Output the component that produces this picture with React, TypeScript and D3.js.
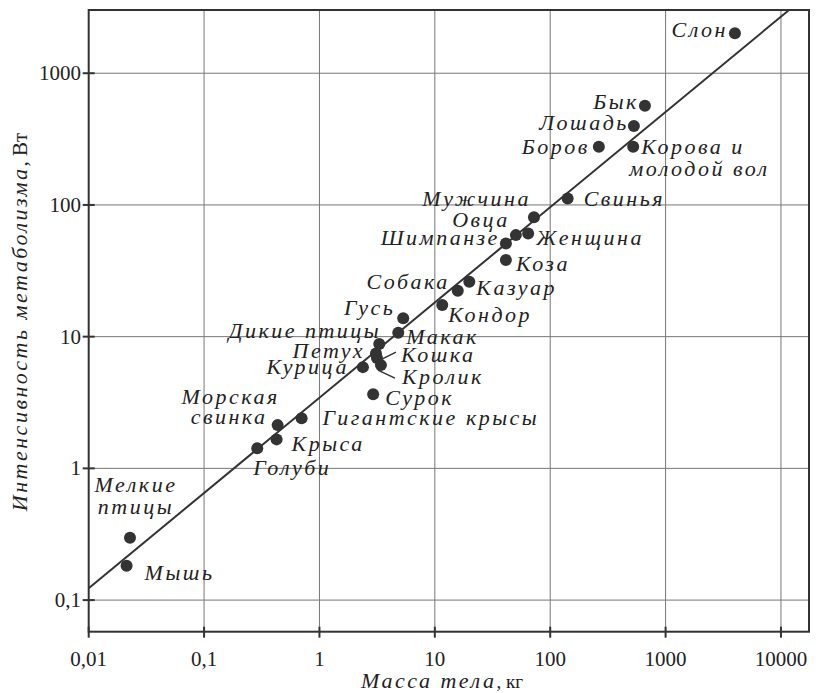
import React from "react";
import * as d3 from "d3";

const names = [
  "Слон", "Бык", "Лошадь", "Корова и молодой вол", "Боров", "Свинья", "Мужчина", "Женщина",
  "Овца", "Шимпанзе", "Коза", "Казуар", "Собака", "Кондор", "Гусь", "Макак", "Дикие птицы",
  "Петух", "Кошка", "Курица", "Кролик", "Сурок", "Гигантские крысы", "Крыса", "Морская свинка",
  "Голуби", "Мелкие птицы", "Мышь",
];
const massKg = [
  3990, 662, 531, 524, 264, 141.6, 72.3, 64.4,
  50.4, 41.3, 41.3, 19.9, 15.8, 11.6, 5.32, 4.82, 3.3,
  3.09, 3.15, 2.38, 3.41, 2.92, 0.70, 0.425, 0.434,
  0.289, 0.0228, 0.0213,
];
const powerW = [
  2010, 566, 397, 277, 277, 112, 80.5, 60.8,
  59, 51, 38.2, 26.1, 22.3, 17.4, 13.8, 10.7, 8.8,
  7.46, 6.88, 5.87, 6.08, 3.66, 2.40, 1.66, 2.13,
  1.42, 0.297, 0.182,
];
const fitMass = [0.01, 11750];
const fitPower = [0.123, 3020];
const xTicks = [0.01, 0.1, 1, 10, 100, 1000, 10000];
const xTickLabels = ["0,01", "0,1", "1", "10", "100", "1000", "10000"];
const yTicks = [0.1, 1, 10, 100, 1000];
const yTickLabels = ["0,1", "1", "10", "100", "1000"];

// label layout: lines, per-line [dx, dy], anchor
type L = { lines: string[]; off: [number, number][]; anchor: "start" | "end" | "middle"; leader?: [number, number, number, number] };
const layout: L[] = [
  { lines: ["Слон"], off: [[-7, 4]], anchor: "end" },
  { lines: ["Бык"], off: [[-6, 3]], anchor: "end" },
  { lines: ["Лошадь"], off: [[-5, 4]], anchor: "end" },
  { lines: ["Корова и", "молодой вол"], off: [[8, 7], [-4, 29]], anchor: "start" },
  { lines: ["Боров"], off: [[-9, 7]], anchor: "end" },
  { lines: ["Свинья"], off: [[16, 8]], anchor: "start" },
  { lines: ["Мужчина"], off: [[-3, -11]], anchor: "end" },
  { lines: ["Женщина"], off: [[8, 12]], anchor: "start" },
  { lines: ["Овца"], off: [[-6, -8]], anchor: "end" },
  { lines: ["Шимпанзе"], off: [[-6, 2]], anchor: "end" },
  { lines: ["Коза"], off: [[10, 11]], anchor: "start" },
  { lines: ["Казуар"], off: [[7, 13]], anchor: "start" },
  { lines: ["Собака"], off: [[-8, -2]], anchor: "end" },
  { lines: ["Кондор"], off: [[6, 17]], anchor: "start" },
  { lines: ["Гусь"], off: [[-8, -3]], anchor: "end" },
  { lines: ["Макак"], off: [[8, 11]], anchor: "start" },
  { lines: ["Дикие птицы"], off: [[2, -6]], anchor: "end" },
  { lines: ["Петух"], off: [[-11, 5]], anchor: "end" },
  { lines: ["Кошка"], off: [[24, 4]], anchor: "start", leader: [5, 1, 19, -6] },
  { lines: ["Курица"], off: [[-14, 7]], anchor: "end" },
  { lines: ["Кролик"], off: [[21, 19]], anchor: "start", leader: [-3, 5, 14, 13] },
  { lines: ["Сурок"], off: [[12, 11]], anchor: "start" },
  { lines: ["Гигантские крысы"], off: [[21, 7]], anchor: "start" },
  { lines: ["Крыса"], off: [[15, 12]], anchor: "start" },
  { lines: ["Морская", "свинка"], off: [[2, -21], [-10, -1]], anchor: "end" },
  { lines: ["Голуби"], off: [[-4, 27]], anchor: "start" },
  { lines: ["Мелкие", "птицы"], off: [[6, -46], [6, -24]], anchor: "middle" },
  { lines: ["Мышь"], off: [[18, 14]], anchor: "start" },
];

const W = 819, H = 693;
const L0 = 88.7, R0 = 809, T0 = 10, B0 = 631.7;
const INK = "#333";
const serif = "'Times New Roman', serif";
const LS = 2.5;

export default function App() {
  const x = d3.scaleLog().domain([0.01, Math.pow(10, 4.243)]).range([L0, R0]);
  const y = d3.scaleLog().domain([Math.pow(10, -1.24), Math.pow(10, 3.48)]).range([B0, T0]);
  const line = d3.line<number>().x((_, i) => x(fitMass[i])).y((_, i) => y(fitPower[i]));

  return (
    <>
      <style>{"body{margin:0}"}</style>
      <svg width={W} height={H} style={{ display: "block", background: "#fff", fontFamily: serif }}>
        {/* grid */}
        {xTicks.slice(1).map((t) => (
          <line key={"gx" + t} x1={x(t)} x2={x(t)} y1={T0} y2={B0} stroke="#777" strokeWidth={1} />
        ))}
        {yTicks.map((t) => (
          <line key={"gy" + t} x1={L0} x2={R0} y1={y(t)} y2={y(t)} stroke="#777" strokeWidth={1} />
        ))}
        {/* frame */}
        <rect x={L0} y={T0} width={R0 - L0} height={B0 - T0} fill="none" stroke={INK} strokeWidth={2} />
        {/* ticks */}
        {xTicks.map((t, i) => (
          <g key={"tx" + t}>
            <line x1={x(t)} x2={x(t)} y1={B0 - 5} y2={B0 + 6} stroke={INK} strokeWidth={2} />
            <text x={x(t)} y={666} textAnchor="middle" fontSize={21} fill="#222">
              {xTickLabels[i]}
            </text>
          </g>
        ))}
        {yTicks.map((t, i) => (
          <g key={"ty" + t}>
            <line x1={L0 - 6} x2={L0 + 6} y1={y(t)} y2={y(t)} stroke={INK} strokeWidth={2} />
            <text x={81} y={y(t) + 7} textAnchor="end" fontSize={21} fill="#222">
              {yTickLabels[i]}
            </text>
          </g>
        ))}
        {/* fit line */}
        <path d={line(fitMass) || ""} fill="none" stroke={INK} strokeWidth={2} />
        {/* leaders */}
        {layout.map((l, i) =>
          l.leader ? (
            <line
              key={"ld" + i}
              x1={x(massKg[i]) + l.leader[0]}
              y1={y(powerW[i]) + l.leader[1]}
              x2={x(massKg[i]) + l.leader[2]}
              y2={y(powerW[i]) + l.leader[3]}
              stroke={INK}
              strokeWidth={1.5}
            />
          ) : null
        )}
        {/* points */}
        {massKg.map((m, i) => (
          <circle key={"p" + i} cx={x(m)} cy={y(powerW[i])} r={6} fill={INK} />
        ))}
        {/* labels */}
        {layout.map((l, i) => (
          <text
            key={"lb" + i}
            fontStyle="italic"
            fontSize={22}
            letterSpacing={LS}
            fill="#222"
            textAnchor={l.anchor}
          >
            {l.lines.map((s, j) => (
              <tspan key={j} x={x(massKg[i]) + l.off[j][0]} y={y(powerW[i]) + l.off[j][1]}>
                {s}
              </tspan>
            ))}
          </text>
        ))}
        {/* axis titles */}
        <text x={442} y={688} textAnchor="middle" fontSize={22} fill="#222">
          <tspan fontStyle="italic" letterSpacing={LS}>Масса тела</tspan>
          <tspan fontSize={19}>, кг</tspan>
        </text>
        <text transform="translate(27,322) rotate(-90)" textAnchor="middle" fontSize={22} fill="#222">
          <tspan fontStyle="italic" letterSpacing={LS}>Интенсивность метаболизма</tspan>
          <tspan fontSize={21}>, Вт</tspan>
        </text>
      </svg>
    </>
  );
}
